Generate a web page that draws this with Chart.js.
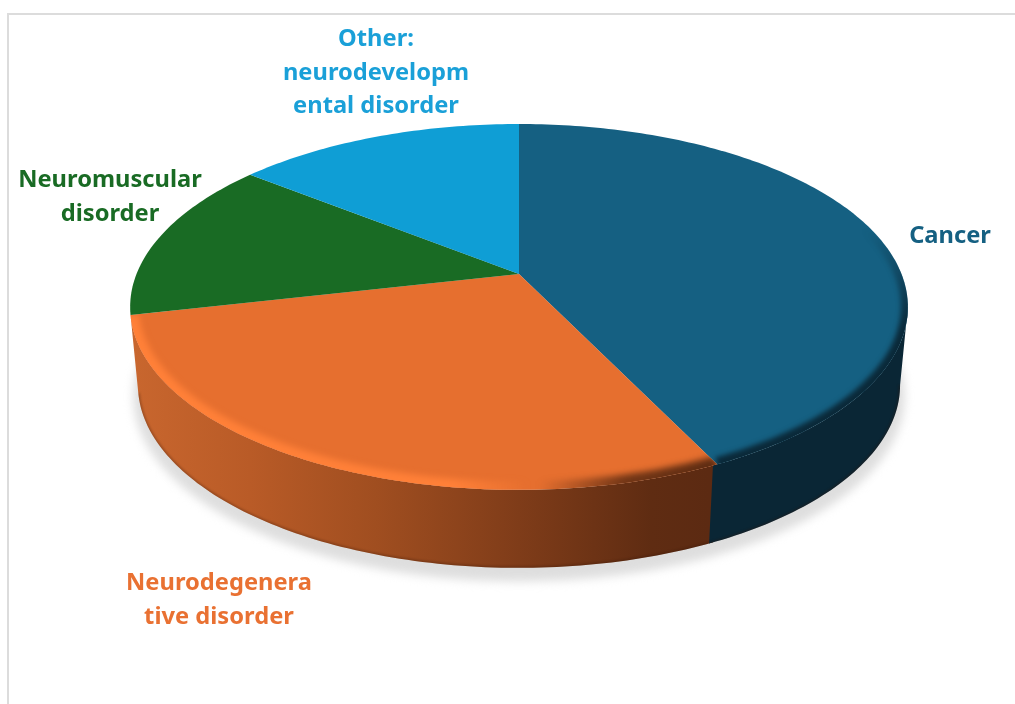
<!DOCTYPE html>
<html>
<head>
<meta charset="utf-8">
<style>
  html, body { margin: 0; padding: 0; background: #fff; overflow: hidden; }
  #wrap { position: relative; width: 1015px; height: 704px; }
  #frame { position: absolute; left: 7px; top: 13px; right: 0; bottom: 0; border-top: 2px solid #dcdcdc; border-left: 2px solid #dcdcdc; }
  canvas { position: absolute; left: 0; top: 0; }
</style>
<script src="https://cdn.jsdelivr.net/npm/chart.js@4"></script>
</head>
<body>
<div id="wrap">
  <div id="frame"></div>
  <canvas id="chart" width="1015" height="704"></canvas>
</div>
<script>
const categories = ['Cancer', 'Neurodegenerative disorder', 'Neuromuscular disorder', 'Other: neurodevelopmental disorder'];
const studyCounts = [3, 2, 1, 1];
const sliceColors = ['#156082', '#E66F2F', '#196B24', '#0F9ED5'];
const labelColors = ['#156082', '#E97132', '#196B24', '#1AA0D8'];
const wrappedLabels = [
  ['Cancer'],
  ['Neurodegenera', 'tive disorder'],
  ['Neuromuscular', 'disorder'],
  ['Other:', 'neurodevelopm', 'ental disorder']
];

// Tilted-disc projection: v is depth on the unit circle, nearer rim points spread out.
const TILT = { k: 0.18, sx: 1.396, sy: 0.646, drop: 78, baseScale: 0.98 };
const DEG = Math.PI / 180;

function rimPoint(arc, theta, low) {
  const u = Math.sin(theta), v = Math.cos(theta), w = 1 + TILT.k * v;
  const r = arc.outerRadius;
  const sc = low ? TILT.baseScale : 1;
  return [arc.x + r * TILT.sx * sc * u / w, arc.y + (low ? TILT.drop : 0) - r * TILT.sy * v / w];
}

function traceRim(ctx, arc, from, to, low, move) {
  const n = Math.max(2, Math.ceil(Math.abs(to - from) / DEG));
  for (let i = 0; i <= n; i++) {
    const p = rimPoint(arc, from + (to - from) * i / n, low);
    if (i === 0 && move) ctx.moveTo(p[0], p[1]); else ctx.lineTo(p[0], p[1]);
  }
}

function sliceAngles(arc) {
  return [arc.startAngle + Math.PI / 2, arc.endAngle + Math.PI / 2];
}

function topPath(ctx, arc) {
  const [a, b] = sliceAngles(arc);
  ctx.beginPath();
  ctx.moveTo(arc.x, arc.y);
  traceRim(ctx, arc, a, b, false, false);
  ctx.closePath();
}

function sidePath(ctx, arc, a, b) {
  ctx.beginPath();
  traceRim(ctx, arc, a, b, false, true);
  traceRim(ctx, arc, b, a, true, false);
  ctx.closePath();
}

const tiltedPie = {
  id: 'tiltedPie',
  beforeDatasetDraw(chart, args, opts) {
    const ctx = chart.ctx;
    const arcs = args.meta.data;
    const first = arcs[0];

    // ground shadow below the disc
    ctx.save();
    ctx.filter = 'blur(5px)';
    ctx.fillStyle = '#dedede';
    ctx.translate(0, 11);
    ctx.beginPath();
    traceRim(ctx, { x: first.x, y: first.y, outerRadius: first.outerRadius * 1.012 }, 0, 2 * Math.PI, true, true);
    ctx.closePath();
    ctx.fill();
    ctx.restore();

    // wall of the disc, only the part facing the viewer
    for (let i = arcs.length - 1; i >= 0; i--) {
      const [s, e] = sliceAngles(arcs[i]);
      const a = Math.max(s, opts.frontFrom * DEG);
      const b = Math.min(e, opts.frontTo * DEG);
      if (b - a < 6 * DEG) continue;
      // the nearer wall overlaps its neighbour slightly, as the rounded edge does
      const seam = i === 0 ? opts.seamOverlap * DEG : 0;
      const g = ctx.createLinearGradient(opts.wallX[0], 0, opts.wallX[1], 0);
      opts.wallStops[i].forEach(st => g.addColorStop(st[0], st[1]));
      ctx.save();
      sidePath(ctx, arcs[i], a, b + seam);
      ctx.fillStyle = g;
      ctx.fill();
      ctx.clip();
      // darker foot along the lower rim
      ctx.filter = 'blur(1px)';
      ctx.strokeStyle = opts.wallFoot;
      ctx.lineWidth = 3;
      ctx.beginPath();
      traceRim(ctx, arcs[i], a, b + seam, true, true);
      ctx.stroke();
      ctx.restore();
    }

    // flat top of each slice with a soft bevel along its rim
    arcs.forEach((arc, i) => {
      ctx.save();
      topPath(ctx, arc);
      ctx.fillStyle = arc.options.backgroundColor;
      ctx.fill();
      const bevel = opts.bevels[i];
      if (bevel) {
        ctx.clip();
        const g = ctx.createLinearGradient(bevel.line[0], bevel.line[1], bevel.line[2], bevel.line[3]);
        bevel.stops.forEach(st => g.addColorStop(st[0], st[1]));
        const [a, b] = sliceAngles(arc);
        ctx.filter = 'blur(' + bevel.blur + 'px)';
        ctx.strokeStyle = g;
        ctx.lineWidth = bevel.width;
        ctx.lineJoin = 'round';
        ctx.beginPath();
        traceRim(ctx, arc, a, b, false, true);
        ctx.stroke();
      }
      ctx.restore();
    });
    return false;
  }
};

const sliceLabels = {
  id: 'sliceLabels',
  afterDatasetsDraw(chart, args, opts) {
    const ctx = chart.ctx;
    ctx.save();
    ctx.font = opts.font;
    ctx.textAlign = 'center';
    ctx.textBaseline = 'alphabetic';
    wrappedLabels.forEach((lines, i) => {
      ctx.fillStyle = labelColors[i];
      lines.forEach((line, j) => {
        ctx.fillText(line, opts.anchors[i][0], opts.anchors[i][1] + j * opts.lineHeight);
      });
    });
    ctx.restore();
  }
};

new Chart(document.getElementById('chart'), {
  type: 'pie',
  data: {
    labels: categories,
    datasets: [{ data: studyCounts, backgroundColor: sliceColors, borderWidth: 0 }]
  },
  plugins: [tiltedPie, sliceLabels],
  options: {
    responsive: false,
    animation: false,
    events: [],
    layout: { padding: { left: 23, right: 0, top: 0, bottom: 156 } },
    plugins: {
      legend: { display: false },
      tooltip: { enabled: false },
      tiltedPie: {
        frontFrom: 100.4,
        frontTo: 262,
        seamOverlap: 0.6,
        wallX: [135, 709],
        wallFoot: 'rgba(50,20,5,0.3)',
        wallStops: [
          [[0, '#0A2635'], [1, '#0A2635']],
          [[0, '#C8662E'], [0.2, '#B95B27'], [0.42, '#A04E20'], [0.67, '#7F3C19'], [0.9, '#5F2C12'], [1, '#5C2A12']]
        ],
        bevels: [
          { line: [0, 230, 0, 330], width: 14, blur: 2.5, stops: [[0, 'rgba(10,38,53,0)'], [1, 'rgba(10,38,53,0.95)']] },
          { line: [135, 0, 712, 0], width: 17, blur: 3, stops: [[0, '#FF8038'], [0.55, '#FF8038'], [0.68, 'rgba(255,128,56,0)'], [0.7, 'rgba(94,44,18,0)'], [0.85, 'rgba(94,44,18,0.85)'], [1, 'rgba(94,44,18,1)']] }
        ]
      },
      sliceLabels: {
        font: '700 23.7px "Noto Sans"',
        lineHeight: 33.5,
        anchors: [[950, 243], [219, 590], [110, 187], [376, 46]]
      }
    }
  }
});
</script>
</body>
</html>
